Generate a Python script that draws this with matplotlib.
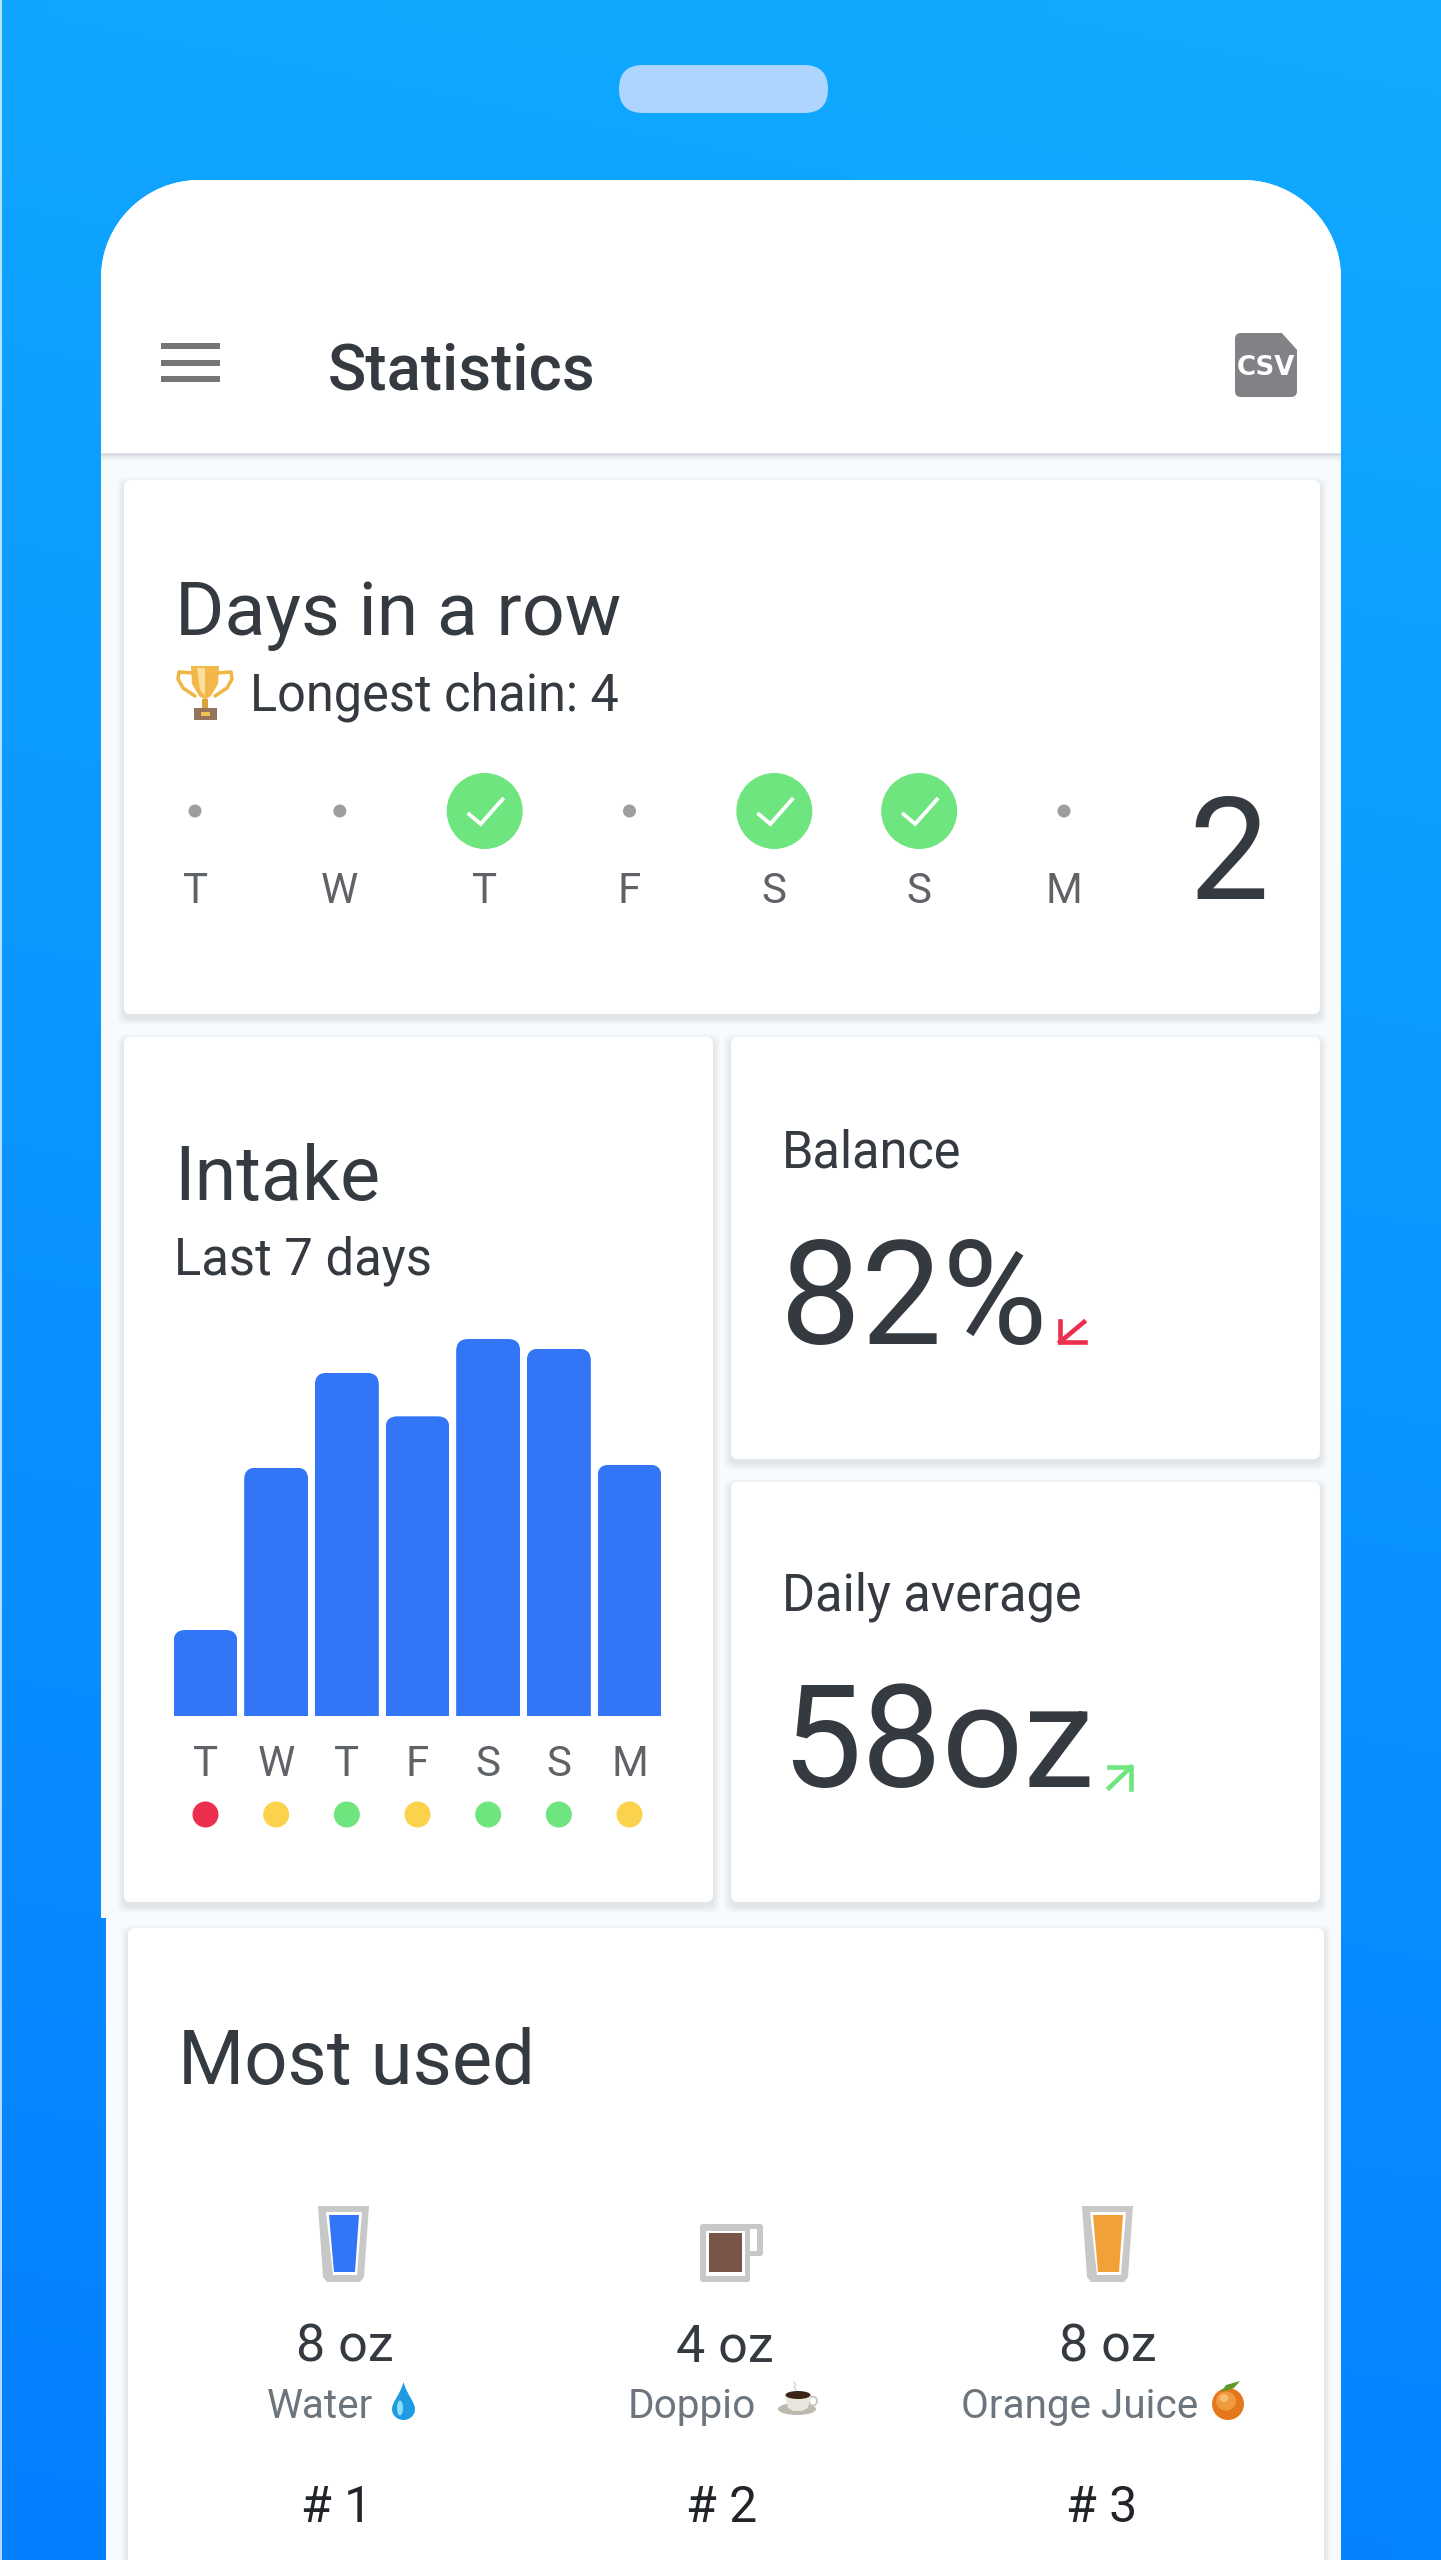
"""
Statistics screen: phone mockup with intake bars and streak row
Output: out.png
"""

import numpy as np
import matplotlib
matplotlib.use("Agg")
import matplotlib.pyplot as plt
from matplotlib.patches import Circle, Ellipse, FancyBboxPatch, PathPatch, Polygon, Rectangle
from matplotlib.path import Path

W, H = 1441, 2560
DPI = 100

plt.rcParams["font.family"] = ["Roboto", "DejaVu Sans"]

# chart data
streak_days = ["T", "W", "T", "F", "S", "S", "M"]
streak_done = [False, False, True, False, True, True, False]
streak_count = "2"
longest_chain = 4

intake_days = ["T", "W", "T", "F", "S", "S", "M"]
intake_oz = [17.8, 51.4, 71, 62, 78, 76, 52]
intake_status = ["red", "yellow", "green", "yellow", "green", "green", "yellow"]

balance_value = "82%"
average_value = "58oz"

drink_amounts = ["8 oz", "4 oz", "8 oz"]
drink_names = ["Water", "Doppio", "Orange Juice"]
drink_ranks = ["# 1", "# 2", "# 3"]

DARK = "#343a40"
GREY = "#6c757d"
DAY_GREY = "#5f6368"
BLUE = "#3275f6"
COLORS = {"red": "#ec2f4f", "yellow": "#fad24b", "green": "#6ee57f"}


def fs(px):
    # font size in points from em size in pixels
    return px * 72 / DPI


def lw(px):
    return px * 72 / DPI


def label(ax, x, y, s, px, color=DARK, ha="left", weight="normal", family=None):
    ax.text(x, y, s, fontsize=fs(px), color=color, ha=ha, va="baseline", fontweight=weight, family=family)


def card(ax, x0, y0, x1, y1):
    # soft layered shadow, then the white card
    for grow in range(7, 0, -1):
        ax.add_patch(FancyBboxPatch((x0 - grow, y0 - grow + 4), x1 - x0 + 2 * grow, y1 - y0 + 2 * grow,
                                    boxstyle="round,pad=0,rounding_size=9", fc="#1c2a3a", ec="none", alpha=0.011))
    ax.add_patch(FancyBboxPatch((x0, y0), x1 - x0, y1 - y0, boxstyle="round,pad=0,rounding_size=7",
                                fc="white", ec="none"))


def phone_body(ax):
    k = 0.45
    l, r, t, rad = 101, 1341, 180, 98
    verts = [(l, t + rad), (l, t + rad * k), (l + rad * k, t), (l + rad, t),
             (r - rad, t), (r - rad * k, t), (r, t + rad * k), (r, t + rad),
             (r, H), (106, H), (106, 1918), (l, 1918), (l, t + rad)]
    codes = [Path.MOVETO, Path.CURVE4, Path.CURVE4, Path.CURVE4,
             Path.LINETO, Path.CURVE4, Path.CURVE4, Path.CURVE4,
             Path.LINETO, Path.LINETO, Path.LINETO, Path.LINETO, Path.CLOSEPOLY]
    ax.add_patch(PathPatch(Path(verts, codes), fc="#f8fbfe", ec="none"))
    # white top part with the app bar
    verts = verts[:8] + [(r, 453), (l, 453), (l, t + rad)]
    codes = codes[:8] + [Path.LINETO, Path.LINETO, Path.CLOSEPOLY]
    for i, a in enumerate([0.10, 0.07, 0.05, 0.035, 0.025, 0.015, 0.01, 0.005]):
        ax.add_patch(Rectangle((l, 453 + i), r - l, 1.5, fc="#1c2a3a", ec="none", alpha=a))
    ax.add_patch(PathPatch(Path(verts, codes), fc="white", ec="none"))


def glass(ax, dx, fill):
    ax.add_patch(Polygon([(318 + dx, 2206), (369 + dx, 2206), (364 + dx, 2277), (360 + dx, 2282),
                          (327 + dx, 2282), (323 + dx, 2277)], fc="#c8c8c8", ec="none"))
    ax.add_patch(Polygon([(326 + dx, 2212), (362 + dx, 2212), (357 + dx, 2275), (333 + dx, 2275)],
                         fc="white", ec="none"))
    ax.add_patch(Polygon([(329 + dx, 2215), (359 + dx, 2215), (355 + dx, 2272), (334 + dx, 2272)],
                         fc=fill, ec="none"))


def mug(ax):
    ax.add_patch(FancyBboxPatch((741, 2224), 22, 32, boxstyle="round,pad=0,rounding_size=3", fc="#c8c8c8", ec="none"))
    ax.add_patch(Rectangle((750, 2229), 7, 22, fc="white", ec="none"))
    ax.add_patch(FancyBboxPatch((700, 2224), 50, 58, boxstyle="round,pad=0,rounding_size=3", fc="#c8c8c8", ec="none"))
    ax.add_patch(Rectangle((706, 2231), 39, 45, fc="white", ec="none"))
    ax.add_patch(Rectangle((709, 2233), 33, 39, fc="#795548", ec="none"))


def trophy(ax):
    for xs in ([193, 179, 178, 183, 195], [217, 231, 232, 227, 215]):
        ax.plot(xs, [673, 672, 679, 688, 696], color="#efb545", lw=lw(3.5), solid_capstyle="round")
    ax.add_patch(Polygon([(191, 666), (219, 666), (218, 684), (211, 696), (206, 699), (204, 699),
                          (199, 696), (192, 684)], fc="#f2b84b", ec="none"))
    ax.add_patch(Polygon([(197, 668), (205, 668), (205, 696), (200, 690)], fc="#fbdf9c", ec="none"))
    ax.add_patch(Rectangle((202, 699), 6, 10, fc="#dba23c", ec="none"))
    ax.add_patch(Rectangle((194, 708), 23, 12, fc="#96745c", ec="none"))
    ax.add_patch(Rectangle((201, 712), 9, 4, fc="#f2c14e", ec="none"))


def drop(ax):
    verts = [(403.5, 2382), (400, 2395), (392, 2402), (392, 2409), (392, 2416), (398, 2420), (403.5, 2420),
             (409, 2420), (415, 2416), (415, 2409), (415, 2402), (407, 2395), (403.5, 2382)]
    codes = [Path.MOVETO] + [Path.CURVE4] * 12
    ax.add_patch(PathPatch(Path(verts, codes), fc="#1e9be3", ec="none"))
    ax.add_patch(Ellipse((400, 2408), 6, 15, fc="#8fdcf8", ec="none"))


def coffee(ax):
    ax.add_patch(Ellipse((797, 2409), 38, 12, fc="#bdb9ad", ec="none"))
    ax.add_patch(Ellipse((813, 2401), 8, 9, fc="none", ec="#c9c6bc", lw=lw(1.8)))
    ax.add_patch(Polygon([(785, 2395), (811, 2395), (808, 2408), (802, 2411), (793, 2411), (788, 2408)],
                         fc="#e8e5dc", ec="none"))
    ax.add_patch(Ellipse((798, 2395), 25, 8, fc="#3a2416", ec="none"))
    ax.plot([794, 796, 794, 796], [2382, 2385, 2387, 2390], color="#d8d8d8", lw=lw(1.5))


def orange(ax):
    ax.add_patch(Circle((1228, 2404), 16, fc="#e5771d", ec="none"))
    ax.add_patch(Ellipse((1226, 2401), 20, 19, fc="#f09a3e", ec="none"))
    ax.add_patch(Ellipse((1224, 2398), 9, 8, fc="#f8bb70", ec="none"))
    ax.add_patch(Polygon([(1221, 2392), (1226, 2385), (1240, 2381), (1234, 2388)], fc="#5e9a2b", ec="none"))


fig = plt.figure(figsize=(W / DPI, H / DPI), dpi=DPI)
page = fig.add_axes([0, 0, 1, 1])
page.set_xlim(0, W)
page.set_ylim(H, 0)
page.axis("off")

# blue diagonal background
yy, xx = np.mgrid[0:1:64j, 0:1:64j]
grad = (1 - yy) * 0.9 + xx * 0.1
page.imshow(grad, extent=[0, W, H, 0], aspect="auto", zorder=0, interpolation="bilinear",
            cmap=matplotlib.colors.LinearSegmentedColormap.from_list("bg", ["#0480ff", "#11aaff"]), vmin=0, vmax=1)
page.set_xlim(0, W)
page.set_ylim(H, 0)
page.add_patch(Rectangle((0, 0), 1.5, H, fc="white", ec="none", alpha=0.7))
page.add_patch(FancyBboxPatch((619, 65), 209, 48, boxstyle="round,pad=0,rounding_size=24", fc="#add5fe", ec="none"))

phone_body(page)

# app bar
for y in (343, 360, 376):
    page.add_patch(Rectangle((161, y), 59, 6, fc="#757575", ec="none"))
label(page, 328, 390, "Statistics", 63.5, weight="medium")
page.add_patch(FancyBboxPatch((1235, 333), 62, 64, boxstyle="round,pad=0,rounding_size=6", fc="#808285", ec="none"))
page.add_patch(Polygon([(1280, 331), (1299, 331), (1299, 352)], fc="white", ec="none"))
label(page, 1266, 375, "CSV", 26, color="white", ha="center", weight="bold", family="DejaVu Sans")

# days in a row
card(page, 124, 480, 1320, 1014)
label(page, 175, 635, "Days in a row", 75.3)
trophy(page)
label(page, 250, 710, f"Longest chain: {longest_chain}", 50.5)
streak_x = np.linspace(195, 1064, len(streak_days))
for x, d, done in zip(streak_x, streak_days, streak_done):
    if done:
        page.add_patch(Circle((x, 811), 38, fc=COLORS["green"], ec="none"))
        page.plot([x - 17, x - 4, x + 19], [813, 824, 798], color="white", lw=lw(3.8),
                  solid_joinstyle="miter", solid_capstyle="butt")
    else:
        page.add_patch(Circle((x, 811), 6.5, fc="#9e9e9e", ec="none"))
    label(page, x, 903, d, 42, color=DAY_GREY, ha="center")
label(page, 1229, 899, streak_count, 143, ha="center")

# intake card
card(page, 124, 1037, 713, 1902)
label(page, 174, 1200, "Intake", 75.5)
label(page, 174, 1275, "Last 7 days", 50.7)

# balance / average
card(page, 731, 1037, 1320, 1459)
label(page, 782, 1167, "Balance", 50.5)
label(page, 780, 1344, balance_value, 144)
page.plot([1060, 1060, 1085], [1321, 1342, 1342], color=COLORS["red"], lw=lw(4.6), solid_joinstyle="miter")
page.plot([1060, 1084], [1342, 1322], color=COLORS["red"], lw=lw(4.6))

card(page, 731, 1482, 1320, 1902)
label(page, 782, 1611, "Daily average", 50.5)
label(page, 781, 1787, average_value, 143)
page.plot([1109, 1131, 1131], [1767, 1767, 1789], color=COLORS["green"], lw=lw(4.6), solid_joinstyle="miter")
page.plot([1131, 1109], [1767, 1788], color=COLORS["green"], lw=lw(4.6))

# most used
card(page, 128, 1928, 1324, 2700)
label(page, 178, 2084, "Most used", 76)
glass(page, 0, BLUE)
mug(page)
glass(page, 764, "#f2a139")
for x, a in zip([345, 725, 1108], drink_amounts):
    label(page, x, 2362, a, 52, ha="center")
for x, n in zip([267, 628, 961], drink_names):
    label(page, x, 2418, n, 40.5, color=GREY)
drop(page)
coffee(page)
orange(page)
for x, r in zip([337, 722, 1102], drink_ranks):
    label(page, x, 2522, r, 50, color="#212529", ha="center")

# intake bars get their own axes
BAR_L, BAR_R, BAR_BASE, BAR_TOP = 173.5, 661.5, 1716, 1316
PX_PER_OZ = 377 / 78
STEP = 70.67
bar_w = 64 / STEP
ax = fig.add_axes([BAR_L / W, (H - BAR_BASE) / H, (BAR_R - BAR_L) / W, (BAR_BASE - BAR_TOP) / H])
ax.patch.set_alpha(0)
pos = np.arange(len(intake_oz))
ax.set_xlim(-bar_w / 2, pos[-1] + bar_w / 2)
ax.set_ylim(0, (BAR_BASE - BAR_TOP) / PX_PER_OZ)
bars = ax.bar(pos, intake_oz, width=bar_w, color=BLUE)
for b, p, v in zip(bars, pos, intake_oz):
    clip = FancyBboxPatch((p - bar_w / 2, -5), bar_w, v + 5, boxstyle="round,pad=0,rounding_size=0.17",
                          mutation_aspect=STEP / PX_PER_OZ, transform=ax.transData, fc="none", ec="none")
    b.set_clip_path(clip)
ax.set_xticks(pos, intake_days)
ax.tick_params(axis="x", length=0, pad=20, labelsize=fs(42), labelcolor=DAY_GREY)
ax.set_yticks([])
for s in ax.spines.values():
    s.set_visible(False)
dot_y = -(1814.5 - BAR_BASE) / PX_PER_OZ
ax.scatter(pos, [dot_y] * len(pos), s=(26 * 0.72) ** 2, c=[COLORS[c] for c in intake_status],
           linewidths=0, clip_on=False)

fig.savefig("out.png", dpi=DPI)
plt.close(fig)
